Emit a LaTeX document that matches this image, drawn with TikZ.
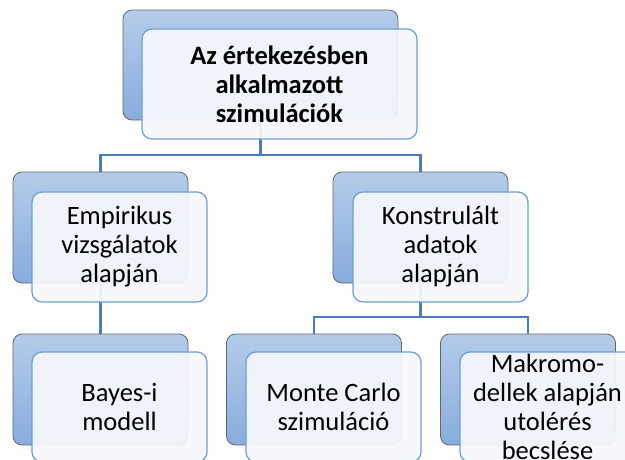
\documentclass[tikz,border=0pt]{standalone}
\usepackage{fontspec}
\setmainfont{Carlito}
\definecolor{bluetop}{HTML}{B4CCEA}
\definecolor{bluebot}{HTML}{88ACDD}
\definecolor{frontfill}{HTML}{F6F8FC}
\definecolor{frontline}{HTML}{6A9FD9}
\definecolor{connblue}{HTML}{4A7EBB}
\pgfdeclarelayer{bg}
\pgfsetlayers{bg,main}
\begin{document}
\begin{tikzpicture}[x=1pt,y=-1pt,
  backbox/.style={rectangle, rounded corners=9pt, draw=black!60, line width=0.8pt,
    top color=bluetop, bottom color=bluebot, minimum width=175pt, minimum height=111pt, inner sep=0pt},
  frontbox/.style={rectangle, rounded corners=10pt, draw=frontline, line width=1.2pt,
    fill=frontfill, fill opacity=0.93, text opacity=1, minimum width=175pt, minimum height=110pt,
    align=center, font=\fontsize{26.5}{29}\selectfont, inner sep=0pt},
  conn/.style={draw=connblue, line width=2.6pt}]
\useasboundingbox (0,0) rectangle (625,459);
\clip (0,0) rectangle (625,459);
% back boxes
\node[backbox, minimum width=275pt, minimum height=110pt] (b0) at (260.5,65) {};
\node[backbox] (b1) at (100.5,227.5) {};
\node[backbox] (b2) at (420.5,227.5) {};
\node[backbox] (b3) at (100.5,389.5) {};
\node[backbox] (b4) at (314,389.5) {};
\node[backbox] (b5) at (528,389.5) {};
% front boxes
\node[frontbox, minimum width=275pt, font=\fontsize{26.5}{29}\selectfont\bfseries] (f0) at (279.5,84)
  {Az értekezésben\\alkalmazott\\szimulációk};
\node[frontbox] (f1) at (119.5,247) {Empirikus\\vizsgálatok\\alapján};
\node[frontbox] (f2) at (440.5,247) {Konstrulált\\adatok\\alapján};
\node[frontbox] (f3) at (119.5,407) {Bayes-i\\modell};
\node[frontbox] (f4) at (333.5,407) {Monte Carlo\\szimuláció};
\node[frontbox] (f5) at (547.5,407) {Makromo-\\dellek alapján\\utolérés\\becslése};
% connectors
\coordinate (j0) at (260.5,155);
\coordinate (j2) at (420.5,317);
\begin{pgfonlayer}{bg}
\draw[conn] (b0.south) -- (j0) -| (b1.north);
\draw[conn] (j0) -| (b2.north);
\draw[conn] (b1.south) -- (b3.north);
\draw[conn] (b2.south) -- (j2) -| (b4.north);
\draw[conn] (j2) -| (b5.north);
\end{pgfonlayer}
\end{tikzpicture}
\end{document}
